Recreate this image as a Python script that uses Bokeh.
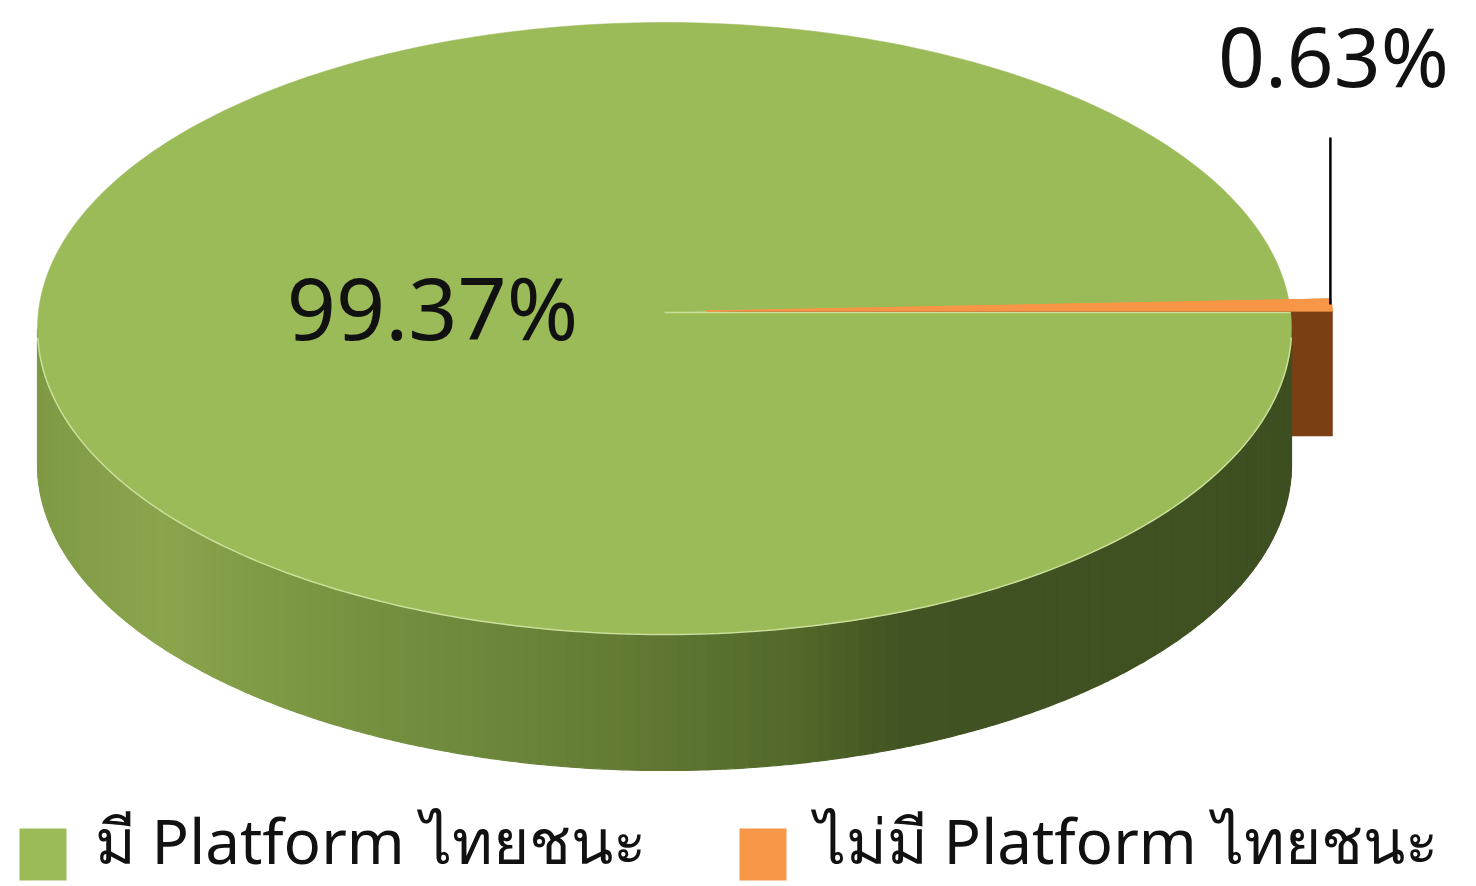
import numpy as np
from bokeh.plotting import figure
from bokeh.models import Range1d
from bokeh.core.properties import value
from bokeh.embed import file_html
from bokeh.resources import INLINE

# ---- data ----
categories = ["มี Platform ไทยชนะ", "ไม่มี Platform ไทยชนะ"]
shares = [99.37, 0.63]
pct_labels = ["99.37%", "0.63%"]
top_colors = ["#9bbb59", "#f79646"]
side_colors = ["#5a7330", "#7b3f14"]
explode = [0, 42]

# ---- geometry (screen-like coordinates, y downwards) ----
W, H = 1476, 886
cx, ecy, rx, ry, depth = 664, 328, 627, 306, 136
apex_y = 312  # projected pie centre (perspective puts it above the ellipse centre)
t_start = np.arcsin((apex_y - ecy) / ry)

p = figure(width=W, height=H, output_backend="svg", toolbar_location=None,
           x_range=Range1d(0, W), y_range=Range1d(H, 0),
           min_border=0, outline_line_color=None)
p.axis.visible = False
p.grid.visible = False
p.background_fill_color = "white"

total = float(sum(shares))
angles = t_start + np.cumsum([0] + [s / total * 2 * np.pi for s in shares])


def hex2rgb(h):
    h = h.lstrip("#")
    return np.array([int(h[i:i + 2], 16) for i in (0, 2, 4)], dtype=float)


def rgb2hex(c):
    return "#%02x%02x%02x" % tuple(int(round(v)) for v in c)


grad_x = [37, 160, 300, 600, 800, 900, 1291]
grad_c = ["#7f9a45", "#8aa54c", "#7b9743", "#647d36", "#516829", "#415322", "#3e4f21"]
grad_rgb = np.array([hex2rgb(c) for c in grad_c])


def grad_color(x):
    return rgb2hex([np.interp(x, grad_x, grad_rgb[:, k]) for k in range(3)])


def rim(t, ox=0.0, oy=0.0):
    return cx + ox + rx * np.cos(t), ecy + oy + ry * np.sin(t)


# offsets for exploded slices
offs = []
for i in range(len(shares)):
    mid = (angles[i] + angles[i + 1]) / 2
    offs.append((explode[i] * np.cos(mid), explode[i] * np.sin(mid) * ry / rx))

# 1) radial faces of the exploded small slice (drawn first, mostly hidden)
for i in range(len(shares)):
    if explode[i] == 0:
        continue
    ox, oy = offs[i]
    for a in (angles[i], angles[i + 1] - 2 * np.pi):
        ex, ey = rim(a, ox, oy)
        d = depth - 11
        p.patch([cx + ox, ex, ex, cx + ox], [apex_y + oy, ey, ey + d, apex_y + oy + d],
                fill_color=side_colors[i], line_color=side_colors[i], line_width=0.5)

# 2) front side of the big slice, in vertical strips with a horizontal gradient
N = 140
ts = np.linspace(0.0, np.pi, N + 1)
xs_list, ys_list, cols = [], [], []
for k in range(N):
    t = np.linspace(ts[k], ts[k + 1], 4)
    xt, yt = rim(t)
    xs_list.append(list(xt) + list(xt[::-1]))
    ys_list.append(list(yt) + list(yt[::-1] + depth))
    cols.append(grad_color(xt.mean()))
p.patches(xs_list, ys_list, fill_color=cols, line_color=cols, line_width=1.2)

# 3) top faces
for i in range(len(shares)):
    ox, oy = offs[i]
    t = np.linspace(angles[i], angles[i + 1], max(8, int(400 * shares[i] / total)))
    xr, yr = rim(t, ox, oy)
    p.patch([cx + ox] + list(xr), [apex_y + oy] + list(yr),
            fill_color=top_colors[i], line_color=top_colors[i], line_width=0.5)

# rim highlight on the front edge
t = np.linspace(0.03, np.pi - 0.03, 200)
xr, yr = rim(t)
p.line(xr, yr, line_color="#c9df9a", line_width=1.5)
# radial highlight of the big slice's edge
xe, ye = rim(angles[0])
p.line([cx, xe], [apex_y, ye], line_color="#c9df9a", line_width=1.5)

# re-draw small slice top over the highlight
ox, oy = offs[1]
t = np.linspace(angles[1], angles[2], 8)
xr, yr = rim(t, ox, oy)
p.patch([cx + ox] + list(xr), [apex_y + oy] + list(yr),
        fill_color=top_colors[1], line_color=top_colors[1], line_width=1.0)

# ---- labels ----
font = value("Noto Sans")
p.text(x=[432], y=[306], text=[pct_labels[0]], text_font=font, text_font_size="86px",
       text_align="center", text_baseline="alphabetic", text_color="#111111")
lx = cx + offs[1][0] + rx
p.text(x=[lx], y=[54], text=[pct_labels[1]], text_font=font, text_font_size="82px",
       text_align="center", text_baseline="alphabetic", text_color="#111111")
p.line([lx - 3, lx - 3], [137, apex_y - 8], line_color="black", line_width=2.5)

# ---- legend ----
leg_x = [19, 739]
for i in range(len(categories)):
    p.quad(left=[leg_x[i]], right=[leg_x[i] + 47], top=[828], bottom=[880],
           fill_color=top_colors[i], line_color=None)
    p.text(x=[leg_x[i] + 75], y=[839], text=[categories[i]], text_font=font,
           text_font_size="62px", text_align="left", text_baseline="alphabetic",
           text_color="#111111")

open("out.html", "w").write(file_html(p, INLINE))
